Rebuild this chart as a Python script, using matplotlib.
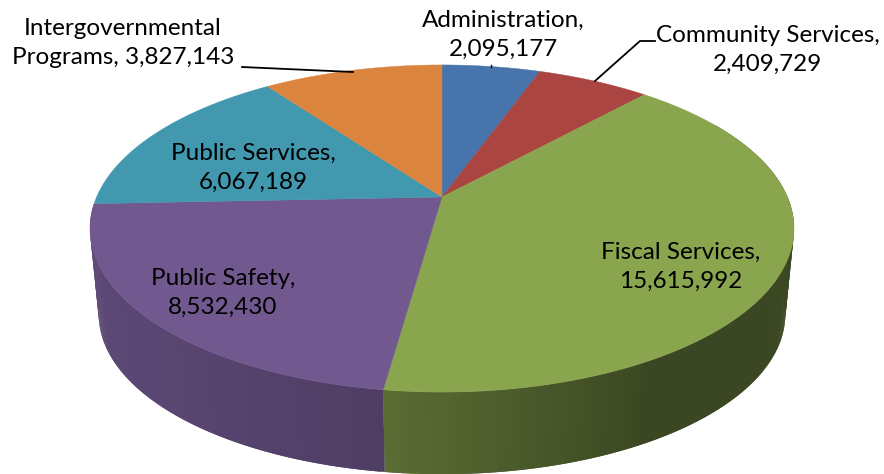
import numpy as np
import matplotlib
matplotlib.use("Agg")
import matplotlib.pyplot as plt
from matplotlib.colors import to_rgb

categories = ["Administration", "Community Services", "Fiscal Services",
              "Public Safety", "Public Services", "Intergovernmental Programs"]
values = [2095177, 2409729, 15615992, 8532430, 6067189, 3827143]
colors = ["#4674AB", "#AB4542", "#89A54E", "#71588F", "#4198AF", "#DB843D"]

plt.rcParams["font.family"] = ["Lato", "DejaVu Sans"]
fig = plt.figure(figsize=(8.84, 4.74), dpi=100)
ax = fig.add_axes([0, 0, 1, 1])
ax.set_xlim(0, 884)
ax.set_ylim(474, 0)
ax.axis("off")

CX, CY = 442, 197
A, B, K = 157.5, 345.4, 0.1927


def project(theta, scale=1.0, dy=0.0):
    """Perspective view of the unit disc; theta runs clockwise from 12 o'clock."""
    u, v = np.sin(theta), np.cos(theta)
    w = 1 + K * v
    return CX + scale * B * u / w, CY + dy - scale * A * v / w


edges = 2 * np.pi * np.concatenate([[0], np.cumsum(values)]) / np.sum(values)

# side wall: only the Fiscal Services and Public Safety slices show one
shade_deg = [60, 150, 187.8, 187.9, 225, 300]
shade_val = [0.44, 0.43, 0.66, 0.70, 0.80, 0.88]
SCALE_B, DY_B = 0.975, 87
for i in (2, 3):
    col = colors[i]
    lo, hi = max(edges[i], np.radians(60)), edges[i + 1]
    t = np.linspace(lo, hi, int(np.degrees(hi - lo)) * 2 + 2)
    step = t[1] - t[0]
    for a in t[:-1]:
        b = min(a + 2 * step, hi)
        x0, y0 = project(np.array([a, b]))
        x1, y1 = project(np.array([b, a]), SCALE_B, DY_B)
        s = np.interp(np.degrees(a + step / 2), shade_deg, shade_val)
        c = tuple(np.array(to_rgb(col)) * s)
        ax.fill(np.r_[x0, x1], np.r_[y0, y1], color=c, lw=0, zorder=1 + i * 0.1)

# top face
for i, col in enumerate(colors):
    t = np.linspace(edges[i], edges[i + 1], 200)
    x, y = project(t)
    ax.fill(np.r_[CX, x], np.r_[CY, y], color=col, lw=0.3, zorder=2)

# leader lines
ax.plot([242, 353], [67, 72], color="black", lw=1.3, zorder=3)
ax.plot([655, 640, 595], [41, 41, 81], color="black", lw=1.3, zorder=3)
ax.plot([491, 491], [65, 67], color="black", lw=1.0, zorder=3)

labels = [f"{c},\n{v:,}" for c, v in zip(categories, values)]
labels[5] = f"Intergovernmental\nPrograms, {values[5]:,}"
pos = [(503, 35), (768, 50), (681, 267), (223, 293), (253, 168), (123, 43)]
for (x, y), s in zip(pos, labels):
    ax.text(x, y, s, ha="center", va="center", fontsize=17.5, color="black",
            linespacing=1.5, zorder=4)

fig.savefig("out.png", dpi=100)
